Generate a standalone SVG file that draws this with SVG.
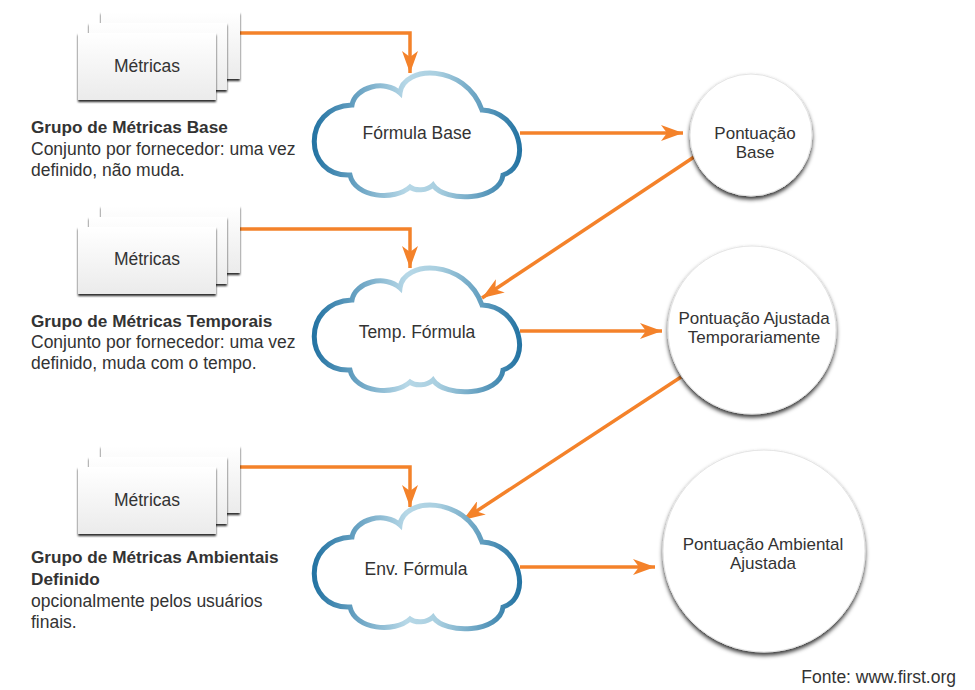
<svg xmlns="http://www.w3.org/2000/svg" xmlns:xlink="http://www.w3.org/1999/xlink" width="975" height="690" viewBox="0 0 975 690">
<style>
  text { font-family: "Liberation Sans", Arial, sans-serif; fill: #333333; font-size: 17.5px; }
  .b { font-weight: bold; font-size: 17.2px; }
  .c { text-anchor: middle; }
  .s { font-size: 17px; }
  .card { fill: url(#cardGrad); filter: url(#cardShadow); }
  .cloud { fill: #ffffff; stroke: url(#cloudGrad); stroke-width: 5; }
  .circ { fill: #ffffff; stroke: #e4e4e4; stroke-width: 1; filter: url(#circShadow); }
  .conn { fill: none; stroke: #f4822a; stroke-width: 3.5; marker-end: url(#arrow); }
</style>
<defs>
  <linearGradient id="cardGrad" x1="0" y1="0" x2="0" y2="1">
    <stop offset="0" stop-color="#ffffff"/>
    <stop offset="1" stop-color="#ebebeb"/>
  </linearGradient>
  <linearGradient id="cloudGrad" x1="0" y1="0" x2="1" y2="0">
    <stop offset="0" stop-color="#2574a3"/>
    <stop offset="0.45" stop-color="#b7d8e7"/>
    <stop offset="0.6" stop-color="#a9cfe0"/>
    <stop offset="1" stop-color="#2574a3"/>
  </linearGradient>
  <filter id="cardShadow" x="-10%" y="-10%" width="120%" height="130%">
    <feDropShadow dx="0" dy="2" stdDeviation="1.1" flood-color="#000000" flood-opacity="0.85"/>
  </filter>
  <filter id="circShadow" x="-10%" y="-10%" width="120%" height="125%">
    <feDropShadow dx="0" dy="3" stdDeviation="2" flood-color="#000000" flood-opacity="0.8"/>
  </filter>
  <marker id="arrow" markerUnits="userSpaceOnUse" viewBox="0 0 22 16" markerWidth="22" markerHeight="16" refX="22" refY="8" orient="auto">
    <path d="M0,0 L22,8 L0,16 L6,8 Z" fill="#f4822a"/>
  </marker>
  <path id="cloudShape" d="M37,32 C40,14 70,6 85,20 C88,-8 150,-10 167,37 C205,38 218,92 188,102 C185,128 130,130 118,112 C112,118 100,118 95,114 C80,128 40,125 35,102 C-12,104 -14,34 37,32 Z"/>
</defs>

<g id="connectors">
  <path class="conn" d="M240,33 H410 V73"/>
  <path class="conn" d="M240,229 H410 V268"/>
  <path class="conn" d="M240,467 H410 V507"/>
  <path class="conn" d="M520,133 H683"/>
  <path class="conn" d="M520,331 H662"/>
  <path class="conn" d="M520,567 H655"/>
  <path class="conn" d="M694,157 L482,298"/>
  <path class="conn" d="M681,377 L463,520"/>
</g>

<g id="metricas-base">
  <rect class="card" x="101" y="12" width="139" height="67"/>
  <rect class="card" x="89" y="23" width="138" height="67"/>
  <rect class="card" x="78" y="33" width="138" height="67"/>
  <text class="c" x="147" y="72">Métricas</text>
</g>
<g id="grupo-base-label">
  <text class="b" x="31" y="133">Grupo de Métricas Base</text>
  <text x="31" y="155">Conjunto por fornecedor: uma vez</text>
  <text x="31" y="176">definido, não muda.</text>
</g>

<g id="metricas-temporais">
  <rect class="card" x="101" y="206" width="139" height="67"/>
  <rect class="card" x="89" y="217" width="138" height="67"/>
  <rect class="card" x="78" y="227" width="138" height="67"/>
  <text class="c" x="147" y="265">Métricas</text>
</g>
<g id="grupo-temporal-label">
  <text class="b" x="31" y="327">Grupo de Métricas Temporais</text>
  <text x="31" y="348">Conjunto por fornecedor: uma vez</text>
  <text x="31" y="369">definido, muda com o tempo.</text>
</g>

<g id="metricas-ambientais">
  <rect class="card" x="101" y="446" width="139" height="67"/>
  <rect class="card" x="89" y="457" width="138" height="67"/>
  <rect class="card" x="78" y="467" width="138" height="67"/>
  <text class="c" x="147" y="506">Métricas</text>
</g>
<g id="grupo-ambiental-label">
  <text class="b" x="31" y="563">Grupo de Métricas Ambientais</text>
  <text class="b" x="31" y="585">Definido</text>
  <text x="31" y="607">opcionalmente pelos usuários</text>
  <text x="31" y="628">finais.</text>
</g>

<g id="formula-base">
  <use xlink:href="#cloudShape" href="#cloudShape" class="cloud" transform="translate(315,73)"/>
  <text class="c" x="417" y="139">Fórmula Base</text>
</g>
<g id="formula-temp">
  <use xlink:href="#cloudShape" href="#cloudShape" class="cloud" transform="translate(315,268)"/>
  <text class="c" x="417" y="338">Temp. Fórmula</text>
</g>
<g id="formula-env">
  <use xlink:href="#cloudShape" href="#cloudShape" class="cloud" transform="translate(315,505)"/>
  <text class="c" x="416" y="575">Env. Fórmula</text>
</g>

<g id="pontuacao-base">
  <circle class="circ" cx="751" cy="135" r="61"/>
  <text class="c s" x="755" y="139">Pontuação</text>
  <text class="c s" x="755" y="158">Base</text>
</g>
<g id="pontuacao-temporal">
  <circle class="circ" cx="752" cy="330" r="84"/>
  <text class="c s" x="754" y="324">Pontuação Ajustada</text>
  <text class="c s" x="754" y="343">Temporariamente</text>
</g>
<g id="pontuacao-ambiental">
  <circle class="circ" cx="764" cy="551" r="101"/>
  <text class="c s" x="763" y="550">Pontuação Ambiental</text>
  <text class="c s" x="763" y="569">Ajustada</text>
</g>

<text x="956" y="683" style="text-anchor:end">Fonte: www.first.org</text>
</svg>
